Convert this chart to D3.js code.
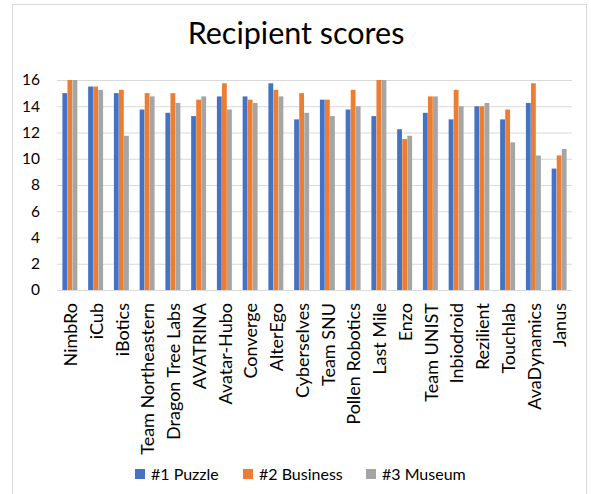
<!DOCTYPE html>
<html><head><meta charset="utf-8">
<script src="https://cdn.jsdelivr.net/npm/d3@7"></script>
<style>body{margin:0;background:#fff;} svg{display:block;font-family:Lato, "Open Sans", sans-serif;}</style>
</head><body>
<svg id="c" width="591" height="494"></svg>
<script>
const categories = ["NimbRo","iCub","iBotics","Team Northeastern","Dragon Tree Labs","AVATRINA","Avatar-Hubo","Converge","AlterEgo","Cyberselves","Team SNU","Pollen Robotics","Last Mile","Enzo","Team UNIST","Inbiodroid","Rezilient","Touchlab","AvaDynamics","Janus"];
const seriesNames = ["#1 Puzzle","#2 Business","#3 Museum"];
const puzzle   = [15,15.5,15,13.75,13.5,13.25,14.75,14.75,15.75,13,14.5,13.75,13.25,12.25,13.5,13,14,13,14.25,9.25];
const business = [16,15.5,15.25,15,15,14.5,15.75,14.5,15.25,15,14.5,15.25,16,11.5,14.75,15.25,14,13.75,15.75,10.25];
const museum   = [16,15.25,11.75,14.75,14.25,14.75,13.75,14.25,14.75,13.5,13.25,14,16,11.75,14.75,14,14.25,11.25,10.25,10.75];
const yTicks = [0,2,4,6,8,10,12,14,16];
const colors = ["#4472C4","#ED7D31","#A5A5A5"];
const series = [puzzle, business, museum];

const svg = d3.select("#c");
svg.append("rect").attr("x",12.5).attr("y",4.5).attr("width",574).attr("height",500)
  .attr("fill","#fff").attr("stroke","#d9d9d9");

const mLeft = 57, mRight = 572, mTop = 80, mBottom = 290;
const x = d3.scaleBand().domain(categories).range([mLeft,mRight]).paddingInner(0.4).paddingOuter(0.2);
const xi = d3.scaleBand().domain(seriesNames).range([0,x.bandwidth()]).padding(0.05);
const y = d3.scaleLinear().domain([0,16]).range([mBottom,mTop]);

svg.append("text").attr("x",296).attr("y",44).attr("text-anchor","middle")
  .attr("font-size",30.5).attr("fill","#000").text("Recipient scores");

const gy = svg.append("g").attr("transform",`translate(${mLeft},0)`)
  .call(d3.axisLeft(y).tickValues(yTicks).tickSize(-(mRight-mLeft)).tickPadding(17).tickFormat(d3.format("d")));
gy.select(".domain").remove();
gy.selectAll(".tick line").attr("stroke","#d9d9d9");
gy.selectAll(".tick text").attr("font-size",15.5).attr("fill","#000").attr("font-family","Lato, sans-serif");

const g = svg.append("g");
seriesNames.forEach((s,si)=>{
  g.selectAll(null).data(series[si]).join("rect")
    .attr("x",(d,i)=>x(categories[i])+xi(s))
    .attr("y",d=>y(d))
    .attr("width",xi.bandwidth())
    .attr("height",d=>y(0)-y(d))
    .attr("fill",colors[si]);
});

const gx = svg.append("g").attr("transform",`translate(0,${mBottom})`)
  .call(d3.axisBottom(x).tickSize(0).tickPadding(0));
gx.select(".domain").attr("stroke","#d9d9d9");
gx.selectAll(".tick text").attr("font-size",18).attr("fill","#000").attr("font-family","Lato, sans-serif")
  .attr("text-anchor","end").attr("dy","0.35em")
  .attr("transform","translate(1,13) rotate(-90)");

const legendX = [135,243,366];
const lg = svg.append("g").attr("transform","translate(0,474)");
seriesNames.forEach((s,i)=>{
  lg.append("rect").attr("x",legendX[i]).attr("y",-5).attr("width",10).attr("height",10).attr("fill",colors[i]);
  lg.append("text").attr("x",legendX[i]+16).attr("y",6).attr("font-size",16).attr("fill","#000").text(s);
});
</script>
</body></html>
